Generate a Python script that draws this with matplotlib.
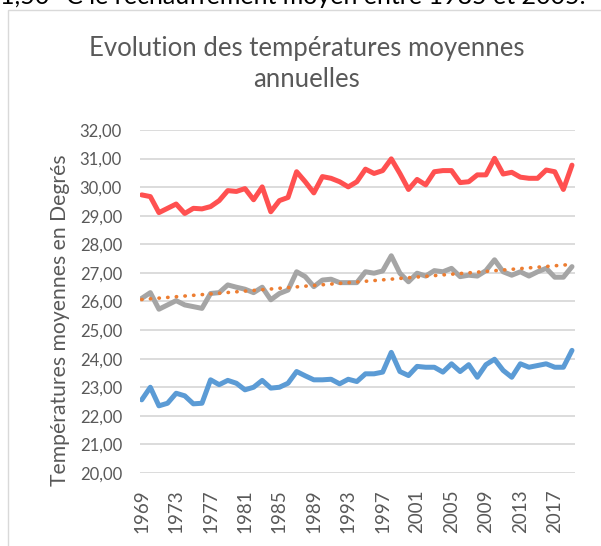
import matplotlib
matplotlib.use("Agg")
import matplotlib.pyplot as plt
import numpy as np
from matplotlib.patches import Rectangle

years = list(range(1969, 2020))
tmax = [29.73, 29.67, 29.11, 29.26, 29.41, 29.08, 29.26, 29.24, 29.32, 29.53,
        29.88, 29.85, 29.95, 29.56, 30.01, 29.14, 29.53, 29.64, 30.54, 30.19,
        29.80, 30.37, 30.31, 30.19, 30.01, 30.19, 30.63, 30.48, 30.58, 30.99,
        30.48, 29.92, 30.27, 30.08, 30.54, 30.58, 30.58, 30.16, 30.19, 30.43,
        30.43, 31.01, 30.46, 30.52, 30.35, 30.31, 30.31, 30.60, 30.54, 29.92,
        30.77]
tmean = [26.11, 26.31, 25.73, 25.88, 26.03, 25.88, 25.82, 25.76, 26.28, 26.31,
         26.58, 26.50, 26.43, 26.31, 26.50, 26.06, 26.28, 26.40, 27.04, 26.87,
         26.52, 26.75, 26.78, 26.66, 26.66, 26.66, 27.04, 26.99, 27.07, 27.60,
         26.99, 26.69, 26.99, 26.89, 27.08, 27.04, 27.16, 26.87, 26.92, 26.89,
         27.08, 27.46, 27.04, 26.92, 27.04, 26.89, 27.04, 27.16, 26.85, 26.85,
         27.22]
tmin = [22.56, 23.00, 22.35, 22.44, 22.79, 22.70, 22.42, 22.44, 23.26, 23.09,
        23.24, 23.14, 22.91, 23.00, 23.24, 22.97, 23.00, 23.14, 23.55, 23.40,
        23.26, 23.26, 23.28, 23.12, 23.28, 23.20, 23.47, 23.47, 23.53, 24.22,
        23.55, 23.41, 23.73, 23.70, 23.70, 23.53, 23.82, 23.55, 23.79, 23.35,
        23.79, 23.98, 23.59, 23.35, 23.82, 23.70, 23.76, 23.82, 23.70, 23.70,
        24.29]
yticks = [20, 21, 22, 23, 24, 25, 26, 27, 28, 29, 30, 31, 32]
xticks = list(range(1969, 2019, 4))

font = "Lato"
grey_txt = "#595959"

fig = plt.figure(figsize=(6.01, 5.46), dpi=100)
W, H = 601, 546

# chart frame
fig.patches.append(Rectangle((8 / W, -0.01), (W + 5) / W, 1 - 10 / H + 0.01,
                             transform=fig.transFigure, fill=False,
                             edgecolor="#D9D9D9", lw=1.0))
# cut-off document text at top
fig.text(0.0, 1 - 4 / H, "1,50 °C le réchauffement moyen entre 1985 et 2005.",
         fontsize=18, family=font, color="black", va="baseline", ha="left")

ax = fig.add_axes([140 / W, 1 - 473 / H, (575 - 140) / W, (473 - 130) / H])
x = np.array(years, dtype=float)
ax.plot(x, tmax, color="#FF5050", lw=3.6, solid_joinstyle="round", solid_capstyle="round", zorder=3)
ax.plot(x, tmean, color="#A5A5A5", lw=3.6, solid_joinstyle="round", solid_capstyle="round", zorder=3)
ax.plot(x, tmin, color="#5B9BD5", lw=3.6, solid_joinstyle="round", solid_capstyle="round", zorder=3)
coef = np.polyfit(x, np.array(tmean), 1)
ax.plot(x, np.polyval(coef, x), color="#ED7D31", lw=2.6, linestyle=(0, (0.1, 2.3)),
        dash_capstyle="round", zorder=4)

ax.set_xlim(1969 - 0.2, 2019 + 0.35)
ax.set_ylim(20, 32)
ax.set_yticks(yticks)
ax.set_yticklabels([f"{v:.2f}".replace(".", ",") for v in yticks],
                   family=font, fontsize=12, color=grey_txt)
ax.set_xticks(xticks)
ax.set_xticklabels([str(v) for v in xticks], rotation=90, family=font,
                   fontsize=13.5, color=grey_txt)
ax.tick_params(axis="y", length=0, pad=13)
ax.tick_params(axis="x", length=0, pad=12)
ax.grid(axis="y", color="#D9D9D9", lw=1.3)
ax.set_axisbelow(True)
for s in ax.spines.values():
    s.set_visible(False)

ax.set_ylabel("Températures moyennes en Degrés", family=font, fontsize=15.2,
              color=grey_txt, va="center")
ax.yaxis.set_label_coords((60 - 140) / 435, (473 - 320) / 343)
fig.text(307 / W, 1 - 64 / H, "Evolution des températures moyennes\nannuelles",
         ha="center", va="center", family=font, fontsize=18.5, color=grey_txt,
         linespacing=1.3)

fig.savefig("out.png", dpi=100)
